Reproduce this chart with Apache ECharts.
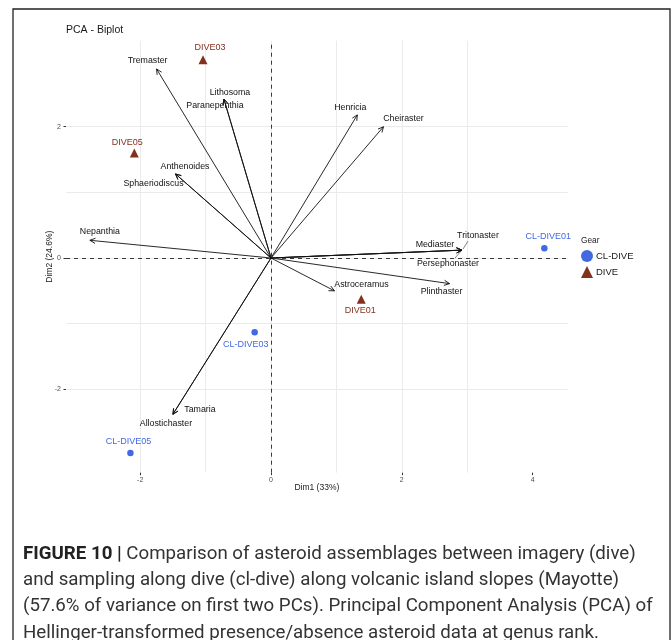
<!DOCTYPE html>
<html><head><meta charset="utf-8">
<script src="https://cdn.jsdelivr.net/npm/echarts@6/dist/echarts.min.js"></script>
<style>html,body{margin:0;padding:0;background:#fff}#c{width:672px;height:640px}</style>
</head><body><div id="c"></div>
<script>
// ---------------- data ----------------
const varNames = ['Tremaster','Lithosoma','Paranepenthia','Anthenoides','Sphaeriodiscus','Nepanthia','Henricia','Cheiraster','Mediaster','Tritonaster','Persephonaster','Plinthaster','Astroceramus','Tamaria','Allostichaster'];
const varDim1 = [-1.75,-0.72,-0.72,-1.46,-1.46,-2.77,1.32,1.72,2.92,2.92,2.92,2.73,0.97,-1.50,-1.50];
const varDim2 = [2.88,2.42,2.42,1.28,1.28,0.27,2.18,2.00,0.12,0.12,0.12,-0.39,-0.50,-2.38,-2.38];
const siteNames = ['CL-DIVE01','CL-DIVE03','CL-DIVE05','DIVE01','DIVE03','DIVE05'];
const siteGear = ['CL-DIVE','CL-DIVE','CL-DIVE','DIVE','DIVE','DIVE'];
const siteDim1 = [4.18,-0.25,-2.15,1.38,-1.04,-2.09];
const siteDim2 = [0.15,-1.13,-2.97,-0.63,3.02,1.60];
const gears = ['CL-DIVE','DIVE'];
const xTicks = [-2,0,2,4];
const yTicks = [-2,0,2];
const xGrid = [-3,-2,-1,0,1,2,3,4];
const yGrid = [-3,-2,-1,0,1,2,3];

// ---------------- style (label placement, repel-like offsets in px) ----------------
const varLabelOffset = {
  Tremaster:[-9,-8], Lithosoma:[6,-7], Paranepenthia:[-9,6], Anthenoides:[9.5,-7], Sphaeriodiscus:[-22,10],
  Nepanthia:[10,-9], Henricia:[-7,-7], Cheiraster:[20,-8], Mediaster:[-27,-6], Tritonaster:[16,-15],
  Persephonaster:[-14,13], Plinthaster:[-8,8], Astroceramus:[27,-6], Tamaria:[27,-5], Allostichaster:[-7,9]
};
const varSegment = { Tritonaster:[6,-9], Persephonaster:[-7,8] };
const siteLabelOffset = {
  'CL-DIVE01':[4,-12], 'CL-DIVE03':[-9,12], 'CL-DIVE05':[-2,-11],
  'DIVE01':[-1,11], 'DIVE03':[7,-12], 'DIVE05':[-7,-10]
};
const gearColor = {'CL-DIVE':'#4169e1','DIVE':'#84301f'};
const gearSymbol = {'CL-DIVE':'circle','DIVE':'triangle'};
const gearSize = {'CL-DIVE':6.5,'DIVE':9};
const FONT = '"Liberation Sans", Arial, sans-serif';
const XMIN = -3.135, XMAX = 4.537, YMIN = -3.270, YMAX = 3.310;

const chart = echarts.init(document.getElementById('c'), null, {renderer:'canvas'});

function gridAxis(extraMin, extraMax, custom) {
  return {
    type:'value', min:extraMin, max:extraMax,
    axisLine:{show:false, onZero:false}, axisLabel:{show:false},
    axisTick:{show:false, customValues:custom},
    splitLine:{show:true, showMinLine:false, showMaxLine:false, lineStyle:{color:'#ebebeb', width:1}}
  };
}

const siteSeries = gears.map(g => ({
  name:g, type:'scatter', xAxisIndex:0, yAxisIndex:0,
  symbol:gearSymbol[g], symbolSize:gearSize[g],
  itemStyle:{color:gearColor[g], opacity:1},
  z:5,
  data: siteNames.map((n,i)=>({n,i})).filter(o=>siteGear[o.i]===g).map(o=>({
    name:o.n, value:[siteDim1[o.i], siteDim2[o.i]],
    label:{offset:siteLabelOffset[o.n]}
  })),
  label:{show:true, position:'inside', formatter:'{b}', color:gearColor[g], fontSize:9, fontFamily:FONT},
  emphasis:{disabled:true}
}));

siteSeries[0].markLine = {
  silent:true, symbol:'none', animation:false,
  label:{show:false},
  lineStyle:{type:[4,4], color:'#3a3a3a', width:1},
  data:[{xAxis:0},{yAxis:0}]
};

const arrowSeries = {
  name:'loadings', type:'custom', xAxisIndex:0, yAxisIndex:0, z:4,
  data: varNames.map((n,i)=>[varDim1[i], varDim2[i], i]),
  renderItem: function(params, api) {
    const i = api.value(2);
    const name = varNames[i];
    const p0 = api.coord([0,0]);
    const p1 = api.coord([api.value(0), api.value(1)]);
    const ang = Math.atan2(p1[1]-p0[1], p1[0]-p0[0]);
    const hl = 6, ha = Math.PI/7;
    const h1 = [p1[0]-hl*Math.cos(ang-ha), p1[1]-hl*Math.sin(ang-ha)];
    const h2 = [p1[0]-hl*Math.cos(ang+ha), p1[1]-hl*Math.sin(ang+ha)];
    const off = varLabelOffset[name] || [0,0];
    const children = [
      {type:'line', shape:{x1:p0[0], y1:p0[1], x2:p1[0], y2:p1[1]}, style:{stroke:'#111', lineWidth:0.9}},
      {type:'polyline', shape:{points:[h1,p1,h2]}, style:{stroke:'#111', lineWidth:0.9, fill:null}},
      {type:'text', x:p1[0]+off[0], y:p1[1]+off[1],
        style:{text:name, fill:'#111', fontSize:8.8, fontFamily:FONT, align:'center', verticalAlign:'middle'}}
    ];
    if (varSegment[name]) {
      const s = varSegment[name];
      children.push({type:'line', shape:{x1:p1[0]+Math.sign(s[0])*1, y1:p1[1]+Math.sign(s[1])*1, x2:p1[0]+s[0], y2:p1[1]+s[1]}, style:{stroke:'#333', lineWidth:0.6}});
    }
    return {type:'group', children};
  }
};

const option = {
  animation:false,
  backgroundColor:'#ffffff',
  title:{text:'PCA - Biplot', left:66, top:25, padding:0,
    textStyle:{fontSize:10.5, fontWeight:'normal', color:'#1a1a1a', fontFamily:FONT}},
  grid:{left:66, top:40.7, width:501.7, height:432},
  legend:{orient:'vertical', left:581, top:250, padding:0, itemWidth:12, itemHeight:12, itemGap:4,
    selectedMode:false, textStyle:{fontSize:9.5, color:'#1a1a1a', fontFamily:FONT, padding:[0,0,0,-2]},
    data:gears.map(g=>({name:g, icon:gearSymbol[g]}))},
  xAxis:[
    gridAxis(XMIN, XMAX, xGrid),
    {type:'value', min:XMIN, max:XMAX, position:'bottom',
      name:'Dim1 (33%)', nameLocation:'middle', nameGap:10.5, nameMoveOverlap:false,
      nameTextStyle:{fontSize:8.5, color:'#1a1a1a', fontFamily:FONT},
      axisLine:{show:false, onZero:false}, splitLine:{show:false},
      axisTick:{show:true, customValues:xTicks, length:2.5, lineStyle:{color:'#333', width:1}},
      axisLabel:{show:true, customValues:xTicks, fontSize:7, color:'#4d4d4d', margin:4, fontFamily:FONT}}
  ],
  yAxis:[
    gridAxis(YMIN, YMAX, yGrid),
    {type:'value', min:YMIN, max:YMAX, position:'left',
      name:'Dim2 (24.6%)', nameLocation:'middle', nameGap:11.5, nameRotate:90, nameMoveOverlap:false,
      nameTextStyle:{fontSize:8.5, color:'#1a1a1a', fontFamily:FONT},
      axisLine:{show:false, onZero:false}, splitLine:{show:false},
      axisTick:{show:true, customValues:yTicks, length:2.5, lineStyle:{color:'#333', width:1}},
      axisLabel:{show:true, customValues:yTicks, fontSize:7, color:'#4d4d4d', margin:5, fontFamily:FONT}}
  ],
  graphic:[
    {type:'rect', shape:{x:13, y:9, width:657, height:680}, style:{fill:null, stroke:'#222', lineWidth:1.3}, silent:true},
    {type:'text', left:581, top:237, style:{text:'Gear', fontSize:8.3, fill:'#1a1a1a', fontFamily:FONT}},
    {type:'text', left:23, top:541, style:{
      text:'{b|FIGURE 10 |} Comparison of asteroid assemblages between imagery (dive)\nand sampling along dive (cl-dive) along volcanic island slopes (Mayotte)\n(57.6% of variance on first two PCs). Principal Component Analysis (PCA) of\nHellinger-transformed presence/absence asteroid data at genus rank.',
      fontSize:18.7, lineHeight:26.3, fill:'#333', fontFamily:'Roboto, sans-serif',
      rich:{b:{fontSize:18.7, fontWeight:'bold', fill:'#222', fontFamily:'Roboto, sans-serif', lineHeight:26.3}}
    }}
  ],
  series:[arrowSeries].concat(siteSeries)
};
chart.setOption(option);
</script>
</body></html>
